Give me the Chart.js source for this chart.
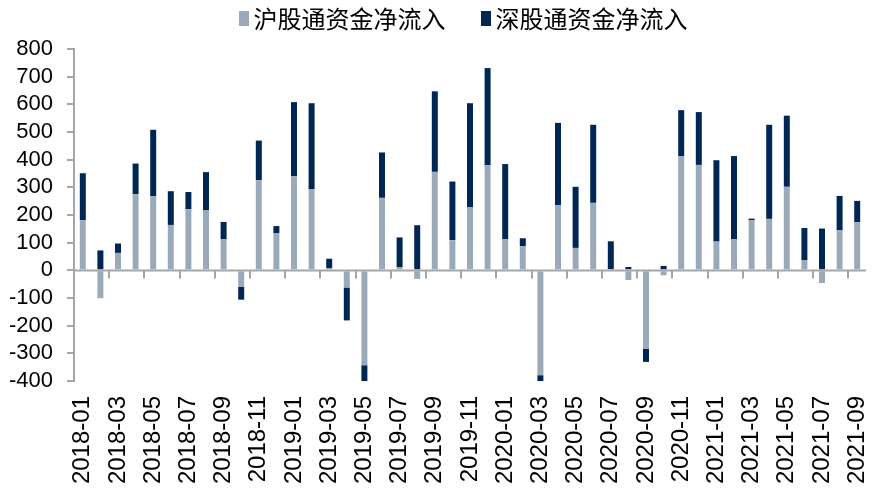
<!DOCTYPE html>
<html>
<head>
<meta charset="utf-8">
<script src="https://cdn.jsdelivr.net/npm/chart.js@4/dist/chart.umd.min.js"></script>
<style>
  body { margin: 0; background: #fff; }
  #wrap { position: relative; width: 880px; height: 492px; }
  #legend {
    position: absolute; top: 3px; left: 0; width: 880px; padding-left: 46px; box-sizing: border-box;
    display: flex; justify-content: center; gap: 35px;
    font: 24px "Noto Sans CJK SC"; color: #000; line-height: 30px;
  }
  #legend span.item { display: flex; align-items: center; gap: 5px; }
  #legend i { display: inline-block; width: 10px; height: 15px; }
</style>
</head>
<body>
<div id="wrap">
  <div id="legend"></div>
  <canvas id="flowChart"></canvas>
</div>
<script>
// 北向资金月度净流入（亿元）
const months = [
    '2018-01', '2018-02', '2018-03', '2018-04', '2018-05', '2018-06', '2018-07', '2018-08', '2018-09', '2018-10', '2018-11', '2018-12',
    '2019-01', '2019-02', '2019-03', '2019-04', '2019-05', '2019-06', '2019-07', '2019-08', '2019-09', '2019-10', '2019-11', '2019-12',
    '2020-01', '2020-02', '2020-03', '2020-04', '2020-05', '2020-06', '2020-07', '2020-08', '2020-09', '2020-10', '2020-11', '2020-12',
    '2021-01', '2021-02', '2021-03', '2021-04', '2021-05', '2021-06', '2021-07', '2021-08', '2021-09'
];
const shanghai = [
    181, -101, 63, 275, 268, 164, 221, 218, 112, -59, 326, 135,
    340, 294, 7, -62, -343, 262, 12, -31, 356, 109, 229, 380,
    112, 87, -379, 236, 81, 244, 4, -35, -283, -18, 413, 381,
    104, 113, 181, 186, 302, 36, -46, 145, 174
];
const shenzhen = [
    170, 72, 34, 111, 240, 122, 62, 137, 63, -47, 143, 25,
    268, 310, 35, -119, -66, 164, 107, 163, 291, 212, 375, 351,
    272, 29, -30, 297, 221, 282, 101, 12, -48, 16, 166, 191,
    294, 300, 6, 340, 257, 117, 151, 124, 77
];
const seriesNames = ['沪股通资金净流入', '深股通资金净流入'];
const seriesColors = ['#9BAAB9', '#002653'];
const yTicks = { min: -400, max: 800, step: 100 };

const AXIS_GREY = '#A6A6A6';

// legend as html, chart.js' own legend can't get the spacing right
document.getElementById('legend').innerHTML = seriesNames
    .map((name, i) => `<span class="item"><i style="background:${seriesColors[i]}"></i>${name}</span>`)
    .join('');

// zero line + x tick marks sitting on the zero line
const zeroAxis = {
    id: 'zeroAxis',
    afterDatasetsDraw(chart) {
        const { ctx, chartArea, scales: { x, y } } = chart;
        const y0 = Math.round(y.getPixelForValue(0)) + 0.5;
        ctx.save();
        ctx.strokeStyle = AXIS_GREY;
        ctx.lineWidth = 2;
        ctx.beginPath();
        ctx.moveTo(chartArea.left, y0);
        ctx.lineTo(chartArea.right, y0);
        for (let i = 2; i < months.length; i += 2) {
            const bx = Math.round((x.getPixelForValue(i - 1) + x.getPixelForValue(i)) / 2);
            ctx.moveTo(bx, y0);
            ctx.lineTo(bx, y0 + 8);
        }
        ctx.stroke();
        ctx.restore();
    }
};

new Chart(document.getElementById('flowChart'), {
    type: 'bar',
    data: {
        labels: months,
        datasets: [
            { label: seriesNames[0], data: shanghai, backgroundColor: seriesColors[0], barPercentage: 0.34, categoryPercentage: 1 },
            { label: seriesNames[1], data: shenzhen, backgroundColor: seriesColors[1], barPercentage: 0.34, categoryPercentage: 1 },
        ]
    },
    options: {
        responsive: true,
        maintainAspectRatio: false,
        animation: false,
        layout: { padding: { left: 0, right: 14, top: 49, bottom: 0 } },
        plugins: {
            legend: { display: false },
            tooltip: { enabled: false }
        },
        scales: {
            x: {
                stacked: true,
                grid: { display: false, drawTicks: false },
                border: { display: false },
                ticks: {
                    autoSkip: false,
                    minRotation: 90,
                    maxRotation: 90,
                    padding: 15,
                    color: '#000',
                    font: { size: 24, family: '"Liberation Sans"' },
                    callback: (v, i) => (i % 2 === 0 ? months[i] : '')
                },
                afterFit(scale) {
                    scale.height = 111;
                    scale.paddingLeft = 0;
                    scale.paddingRight = 0;
                }
            },
            y: {
                stacked: true,
                min: yTicks.min,
                max: yTicks.max,
                ticks: {
                    autoSkip: false,
                    stepSize: yTicks.step,
                    padding: 14,
                    color: '#000',
                    font: { size: 22, family: '"Liberation Sans"' }
                },
                grid: { drawOnChartArea: false, drawTicks: true, tickLength: 7, color: AXIS_GREY, lineWidth: 2 },
                border: { display: true, color: AXIS_GREY, width: 2 },
                afterFit(scale) {
                    scale.width = 74;
                }
            }
        }
    },
    plugins: [zeroAxis]
});
</script>
</body>
</html>
